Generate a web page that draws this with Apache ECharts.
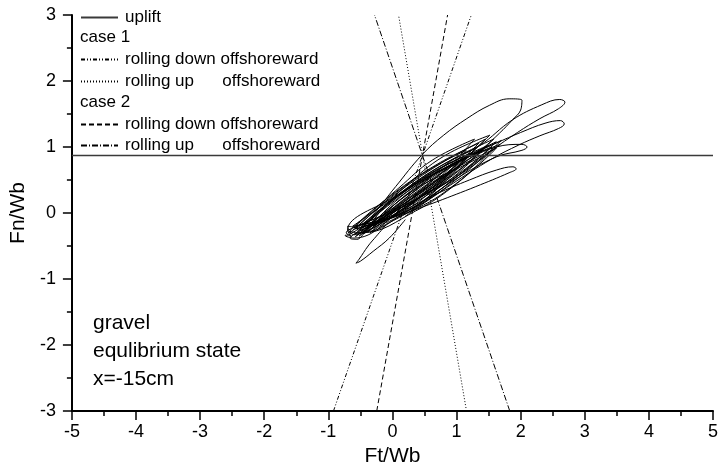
<!DOCTYPE html>
<html>
<head>
<meta charset="utf-8">
<script src="https://cdn.jsdelivr.net/npm/echarts@6/dist/echarts.min.js"></script>
<style>
  html, body { margin: 0; padding: 0; background: #fff; }
  #chart { width: 721px; height: 473px; }
</style>
</head>
<body>
<div id="chart"></div>
<script>
// Axis ranges (Ft/Wb horizontal, Fn/Wb vertical)
const xRange = [-5, 5];
const yRange = [-3, 3];

// Uplift threshold level
const upliftLevel = 0.87;

// Threshold lines, given by their end points on the bottom and top edges
const case1Down = [[-0.92, -3], [1.23, 3]];
const case1Up = [[1.155, -3], [0.095, 3]];
const case2Down = [[-0.245, -3], [0.86, 3]];
const case2Up = [[1.83, -3], [-0.28, 3]];

// Measured force trajectory (Ft/Wb, Fn/Wb): dense bundle of wave cycles
const cycleBundle = [
  [-0.66, -0.30], [0.03, 0.27], [0.77, 0.76], [1.45, 1.12], [0.88, 0.60], [0.14, 0.11],
  [-0.58, -0.36], [0.14, 0.21], [0.91, 0.72], [1.62, 1.08], [1.02, 0.56], [0.25, 0.05],
  [-0.50, -0.22], [0.08, 0.27], [0.71, 0.69], [1.30, 0.98], [0.82, 0.53], [0.19, 0.11],
  [-0.55, -0.20], [-0.72, -0.30], [-0.64, -0.36],
  [-0.70, -0.26], [0.04, 0.25], [0.83, 0.69], [1.55, 1.00], [0.94, 0.53], [0.15, 0.09],
  [-0.45, -0.32], [0.08, 0.17], [0.66, 0.59], [1.20, 0.88], [0.77, 0.43], [0.19, 0.01],
  [-0.62, -0.20], [0.14, 0.30], [0.94, 0.74], [1.68, 1.04], [1.05, 0.58], [0.25, 0.14],
  [-0.52, -0.28], [-0.66, -0.38], [-0.56, -0.40],
  [-0.40, -0.25], [0.04, 0.17], [0.53, 0.52], [1.00, 0.75], [0.64, 0.36], [0.15, 0.01],
  [-0.55, -0.28], [0.08, 0.22], [0.77, 0.65], [1.40, 0.95], [0.88, 0.49], [0.19, 0.06],
  [-0.35, -0.30], [0.25, 0.19], [0.90, 0.61], [1.50, 0.90], [1.01, 0.45], [0.36, 0.03],
  [-0.48, -0.30], [-0.68, -0.28], [-0.60, -0.33],
  [-0.06, 0.15], [0.54, 0.57], [1.10, 0.85], [0.65, 0.41], [0.05, -0.01],
  [-0.48, -0.18], [0.19, 0.35], [0.91, 0.80], [1.58, 1.12], [1.02, 0.64], [0.30, 0.19],
  [-0.30, -0.20], [0.07, 0.16], [0.49, 0.44], [0.90, 0.62], [0.60, 0.28], [0.18, 0.00],
  [-0.40, -0.28], [-0.58, -0.22], [-0.70, -0.20], [-0.66, -0.30],
  [-0.64, -0.24], [0.01, 0.29], [0.70, 0.74], [1.35, 1.06], [0.81, 0.58], [0.12, 0.13],
  [-0.52, -0.35], [0.21, 0.23], [0.98, 0.74], [1.70, 1.10], [1.09, 0.58], [0.32, 0.07],
  [-0.44, -0.20], [0.10, 0.26], [0.69, 0.65], [1.25, 0.92], [0.80, 0.49], [0.21, 0.10],
  [-0.60, -0.38], [-0.74, -0.34], [-0.68, -0.33],
  [0.03, 0.21], [0.78, 0.69], [1.48, 1.02], [0.89, 0.53], [0.14, 0.05],
  [-0.38, -0.28], [0.27, 0.23], [0.97, 0.67], [1.62, 0.98], [1.08, 0.51], [0.38, 0.07],
  [-0.58, -0.24], [-0.02, 0.25], [0.58, 0.66], [1.15, 0.95], [0.69, 0.50], [0.09, 0.09],
  [-0.60, -0.22], [0.10, 0.38], [0.62, 0.80], [1.28, 1.12], [0.85, 0.68], [0.20, 0.20],
  [-0.50, -0.25], [0.20, 0.40], [0.80, 0.86], [1.52, 1.18], [1.00, 0.72], [0.30, 0.22],
  [-0.46, -0.26]
];

// Largest cycle, reaching up to Fn/Wb ~ 1.7
const cycleHigh = [
  [-0.62, -0.26], [-0.45, -0.16], [-0.33, -0.06], [0.05, 0.40], [0.46, 0.88], [0.80, 1.18],
  [1.16, 1.43], [1.51, 1.63], [1.82, 1.73], [2.02, 1.71], [2.00, 1.56], [1.87, 1.41],
  [1.67, 1.21], [1.41, 0.98], [1.00, 0.68], [0.50, 0.30], [0.00, -0.05], [-0.35, -0.25],
  [-0.60, -0.32]
];

// Cycles stretching furthest in Ft/Wb
const cycleFar1 = [
  [-0.30, -0.20], [0.30, 0.30], [0.90, 0.78], [1.36, 1.02], [1.87, 1.41], [2.33, 1.64],
  [2.61, 1.72], [2.69, 1.68], [2.59, 1.58], [2.30, 1.43], [1.95, 1.22], [1.55, 0.95],
  [1.00, 0.55], [0.40, 0.10], [-0.20, -0.22]
];
const cycleFar2 = [
  [0.00, -0.05], [0.70, 0.55], [1.30, 0.92], [1.62, 1.06], [2.00, 1.22], [2.38, 1.36],
  [2.62, 1.40], [2.68, 1.35], [2.59, 1.28], [2.30, 1.17], [1.97, 1.03], [1.55, 0.82],
  [0.90, 0.42], [0.20, -0.05]
];
const cycleMid = [
  [0.20, 0.05], [0.90, 0.62], [1.62, 1.00], [2.02, 1.04], [2.10, 1.00], [2.02, 0.95],
  [1.62, 0.85], [1.00, 0.52], [0.30, 0.05]
];
const cycleFlat = [
  [-0.20, -0.15], [0.30, 0.10], [0.69, 0.29], [1.20, 0.50], [1.62, 0.65], [1.88, 0.70],
  [1.93, 0.67], [1.82, 0.61], [1.30, 0.40], [0.69, 0.17], [0.28, 0.02], [-0.10, -0.15]
];
// Cycle dipping down to Fn/Wb ~ -0.75
const cycleLow = [
  [0.20, -0.10], [-0.05, -0.38], [-0.30, -0.58], [-0.50, -0.73], [-0.57, -0.76],
  [-0.52, -0.70], [-0.38, -0.50], [-0.25, -0.35], [-0.10, -0.18]
];

const FONT = 'Liberation Sans, Arial, sans-serif';
const black = '#000';

function trajectory(data) {
  return {
    type: 'line', data: data, smooth: 0.4, symbol: 'none', silent: true,
    lineStyle: { color: black, width: 1 }, z: 3
  };
}

function threshold(name, data, dash) {
  return {
    name: name, type: 'line', data: data, symbol: 'none', silent: true,
    itemStyle: { color: black },
    lineStyle: { color: black, width: 1, type: dash }, z: 4
  };
}

const chart = echarts.init(document.getElementById('chart'), null, { renderer: 'canvas' });

const legendLabels = {
  uplift: 'uplift',
  c1d: 'rolling down offshoreward',
  c1u: 'rolling up      offshoreward',
  c2d: 'rolling down offshoreward',
  c2u: 'rolling up      offshoreward'
};

const legendBase = {
  orient: 'vertical', left: 80, padding: 0, itemWidth: 37, itemHeight: 12,
  itemGap: 0, selectedMode: false,
  itemStyle: { opacity: 0 },
  formatter: n => legendLabels[n],
  textStyle: { fontFamily: FONT, fontSize: 17, color: black, padding: [0, 0, 0, 2] }
};

chart.setOption({
  animation: false,
  backgroundColor: '#fff',
  grid: { left: 66, right: 4, top: 15, bottom: 62, containLabel: false },
  legend: [
    Object.assign({}, legendBase, { top: 9, data: ['uplift'] }),
    Object.assign({}, legendBase, { top: 51, data: ['c1d'] }),
    Object.assign({}, legendBase, { top: 73, data: ['c1u'] }),
    Object.assign({}, legendBase, { top: 116, data: ['c2d'] }),
    Object.assign({}, legendBase, { top: 137, data: ['c2u'] })
  ],
  graphic: [
    { type: 'text', left: 80, top: 29, style: { text: 'case 1', font: '17px ' + FONT, fill: black } },
    { type: 'text', left: 80, top: 94, style: { text: 'case 2', font: '17px ' + FONT, fill: black } },
    { type: 'text', left: 93, top: 313, style: { text: 'gravel', font: '21px ' + FONT, fill: black } },
    { type: 'text', left: 93, top: 341, style: { text: 'equlibrium state', font: '21px ' + FONT, fill: black } },
    { type: 'text', left: 93, top: 369, style: { text: 'x=-15cm', font: '21px ' + FONT, fill: black } }
  ],
  xAxis: {
    type: 'value', min: xRange[0], max: xRange[1], interval: 1,
    name: 'Ft/Wb', nameLocation: 'middle', nameGap: 32,
    nameTextStyle: { fontFamily: FONT, fontSize: 21, color: black },
    axisLine: { onZero: false, lineStyle: { color: black, width: 2 } },
    axisTick: { length: 9, lineStyle: { color: black, width: 1.5 } },
    minorTick: { show: true, splitNumber: 2, length: 5, lineStyle: { color: black, width: 1.5 } },
    splitLine: { show: false },
    axisLabel: { fontFamily: FONT, fontSize: 18, color: black, margin: 12 }
  },
  yAxis: {
    type: 'value', min: yRange[0], max: yRange[1], interval: 1,
    name: 'Fn/Wb', nameLocation: 'middle', nameGap: 32, nameRotate: 90,
    nameTextStyle: { fontFamily: FONT, fontSize: 21, color: black },
    axisLine: { onZero: false, lineStyle: { color: black, width: 2 } },
    axisTick: { length: 9, lineStyle: { color: black, width: 1.5 } },
    minorTick: { show: true, splitNumber: 2, length: 5, lineStyle: { color: black, width: 1.5 } },
    splitLine: { show: false },
    axisLabel: { fontFamily: FONT, fontSize: 18, color: black, margin: 16 }
  },
  series: [
    {
      name: 'uplift', type: 'line', symbol: 'none', silent: true,
      data: [[xRange[0], upliftLevel], [xRange[1], upliftLevel]],
      itemStyle: { color: black },
      lineStyle: { color: '#3a3a3a', width: 1.5 }, z: 5
    },
    threshold('c1d', case1Down, [4, 2, 1, 2, 1, 2]),
    threshold('c1u', case1Up, [1, 2]),
    threshold('c2d', case2Down, [5, 3]),
    threshold('c2u', case2Up, [6, 2, 1, 2]),
    trajectory(cycleBundle),
    trajectory(cycleHigh),
    trajectory(cycleFar1),
    trajectory(cycleFar2),
    trajectory(cycleMid),
    trajectory(cycleFlat),
    trajectory(cycleLow)
  ]
});
</script>
</body>
</html>
